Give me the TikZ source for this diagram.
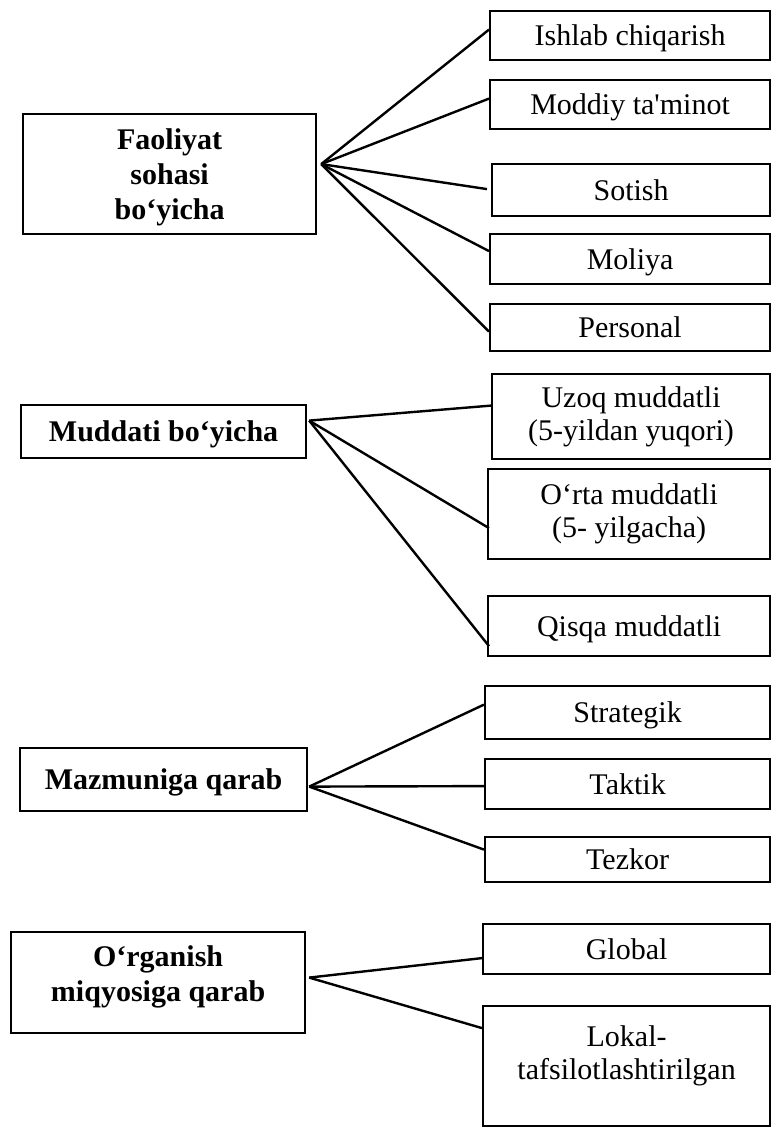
\documentclass[tikz,border=0pt]{standalone}
\usepackage{fontspec}
\setmainfont{Liberation Serif}
\usetikzlibrary{positioning}
\tikzset{
    catbox/.style={draw=black, line width=2.2pt, align=center, anchor=north west,
        inner sep=0pt, font=\bfseries\fontsize{30}{35}\selectfont},
    itembox/.style={draw=black, line width=2.2pt, align=center, anchor=north west,
        inner sep=0pt, minimum width=280pt, font=\fontsize{30}{33}\selectfont},
    oneline/.style={text height=20pt, text depth=0pt},
    branch/.style={draw=black, line width=2.4pt},
}

\begin{document}
\begin{tikzpicture}[x=1pt, y=-1pt]
\useasboundingbox (0,0) rectangle (771,1127);
% Faoliyat sohasi
	\node[catbox, minimum width=293pt, minimum height=120pt, text depth=0pt] (fao) at (22,113) {Faoliyat\\sohasi\\bo‘yicha};
	\node[itembox, oneline, minimum height=49pt] (ish) at (489,10) {Ishlab chiqarish};
	\node[itembox, oneline, minimum height=49pt] (mod) at (489,79) {Moddiy ta\textquotesingle minot};
	\node[itembox, oneline, minimum width=278pt, minimum height=52pt] (sot) at (491,163) {Sotish};
	\node[itembox, oneline, minimum height=50pt] (mol) at (489,233) {Moliya};
	\node[itembox, oneline, minimum height=47pt] (per) at (489,303) {Personal};
	\draw[branch]([xshift=4pt,yshift=10pt]fao.east) -- ([yshift=6pt]ish.west);
	\draw[branch]([xshift=4pt,yshift=10pt]fao.east) -- ([yshift=6pt]mod.west);
	\draw[branch]([xshift=4pt,yshift=10pt]fao.east) -- ([xshift=-4pt,yshift=1pt]sot.west);
	\draw[branch]([xshift=4pt,yshift=10pt]fao.east) -- ([yshift=8pt]mol.west);
	\draw[branch]([xshift=4pt,yshift=10pt]fao.east) -- ([yshift=-4pt]per.west);
% Muddati
	\node[catbox, oneline, minimum width=285pt, minimum height=53pt] (mud) at (20,404) {Muddati bo‘yicha};
	\node[itembox, minimum width=278pt, minimum height=85pt] (uzo) at (491,373) {Uzoq muddatli\\(5-yildan yuqori)};
	\node[itembox, minimum width=282pt, minimum height=90pt] (ort) at (487,468) {O‘rta muddatli\\(5- yilgacha)};
	\node[itembox, oneline, minimum width=282pt, minimum height=60pt] (qis) at (487,595) {Qisqa muddatli};
	\draw[branch]([xshift=2pt,yshift=11pt]mud.east) -- ([yshift=11pt]uzo.west);
	\draw[branch]([xshift=2pt,yshift=11pt]mud.east) -- ([xshift=2pt,yshift=-14pt]ort.west);
	\draw[branch]([xshift=2pt,yshift=11pt]mud.east) -- ([xshift=2pt,yshift=-20pt]qis.west);
% Mazmuniga
	\node[catbox, oneline, minimum width=287pt, minimum height=63pt] (maz) at (19,747) {Mazmuniga qarab};
	\node[itembox, oneline, minimum width=285pt, minimum height=53pt] (str) at (484,685) {Strategik};
	\node[itembox, oneline, minimum width=285pt, minimum height=50pt] (tak) at (484,758) {Taktik};
	\node[itembox, oneline, minimum width=285pt, minimum height=45pt] (tez) at (484,836) {Tezkor};
	\draw[branch]([xshift=1pt,yshift=-7pt]maz.east) -- ([yshift=8pt]str.west);
	\draw[branch]([xshift=1pt,yshift=-7pt]maz.east) -- ([yshift=-2pt]tak.west);
	\draw[branch]([xshift=1pt,yshift=-7pt]maz.east) -- ([yshift=10pt]tez.west);
% O'rganish
	\node[catbox, minimum width=294pt, minimum height=101pt, text depth=18pt] (org) at (10,931) {O‘rganish\\miqyosiga qarab};
	\node[itembox, oneline, minimum width=287pt, minimum height=50pt] (glo) at (482,923) {Global};
	\node[itembox, minimum width=287pt, minimum height=120pt, text depth=28pt] (lok) at (482,1005) {Lokal-\\tafsilotlashtirilgan};
	\draw[branch]([xshift=3pt,yshift=5pt]org.east) -- ([yshift=-9pt]glo.west);
	\draw[branch]([xshift=3pt,yshift=5pt]org.east) -- ([yshift=38pt]lok.west);
\end{tikzpicture}
\end{document}
